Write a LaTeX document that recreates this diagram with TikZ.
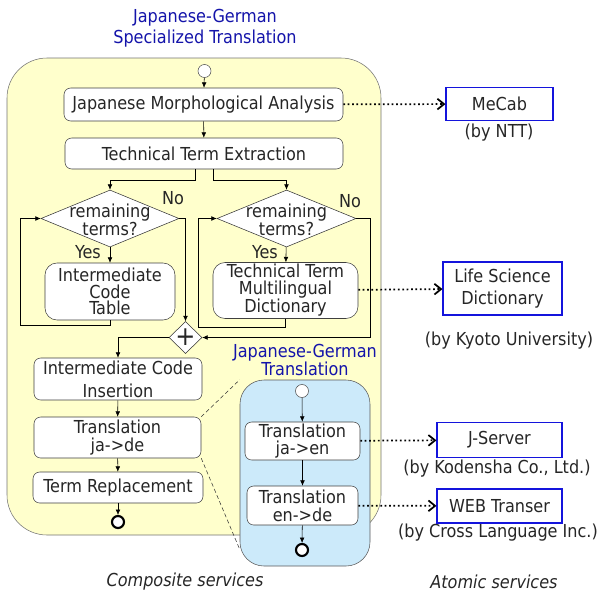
\documentclass[tikz,border=0pt]{standalone}
\usepackage{fontspec}
\setmainfont{DejaVu Sans Condensed}
\usetikzlibrary{shapes,arrows.meta}
\definecolor{csfill}{RGB}{255,255,204}
\definecolor{tsfill}{RGB}{204,234,250}
\definecolor{ttl}{RGB}{20,20,170}
\definecolor{atb}{RGB}{20,20,220}
\tikzset{sz/.style 2 args={minimum width=#1*0.75pt,minimum height=#2*0.75pt}}
\tikzset{lsp/.style={font=\fontsize{13.4}{#1}\selectfont}}
\tikzstyle{act}=[draw=black!75,fill=white,rounded corners=5pt,align=center,inner sep=0pt]
\tikzstyle{atom}=[draw=atb,thick,fill=white,align=center,inner sep=0pt]
\tikzstyle{dec}=[diamond,draw=black!80,fill=white,inner sep=0pt]
\tikzstyle{ini}=[circle,draw=black!70,fill=white,minimum size=13*0.75pt,inner sep=0pt]
\tikzstyle{fin}=[circle,draw=black,line width=1.6pt,fill=white,minimum size=12*0.75pt,inner sep=0pt]
\tikzstyle{flow}=[-{Latex[length=4pt,width=3.5pt]},black]
\tikzstyle{use}=[line width=1.3pt,dotted,-{Straight Barb[length=5pt,width=8pt,line width=1.3pt]}]
\tikzstyle{ttl}=[text=ttl,align=center]
\tikzstyle{by}=[align=center]
\tikzstyle{cmt}=[font=\fontsize{13.4}{15}\selectfont\itshape]

\begin{document}
\begin{tikzpicture}[x=0.75pt,y=-0.75pt,font=\fontsize{13.4}{12.3}\selectfont,text=black!85]
\useasboundingbox (0,0) rectangle (602,593);
\node[draw=black!55,fill=csfill,rounded corners=30pt,sz={374}{477}] (cs) at (194,296.5) {};
\node[ttl,lsp=15.5] (cst) at (205,28) {Japanese-German\\Specialized Translation};
\node[ini] (s1) at (204.5,71) {};
\node[act,sz={279}{33}] (mja) at (203.5,104.5) {Japanese Morphological Analysis};
\node[act,sz={278}{31}] (tte) at (204,153.5) {Technical Term Extraction};
\node[dec,sz={138}{57},label={[align=center,yshift=-1pt]center:remaining\\terms?}] (d1) at (110,218.5) {};
\node[dec,sz={139}{57},label={[align=center,yshift=-1pt]center:remaining\\terms?}] (d2) at (286.5,218.5) {};
\node[act,sz={130}{57},rounded corners=9pt] (ict) at (110,291.5) {Intermediate\\Code\\Table};
\node[act,sz={145}{56},rounded corners=9pt] (ttd) at (285.5,290.5) {Technical Term\\Multilingual\\Dictionary};
\node[dec,sz={33}{32},label={center:\fontsize{20}{20}\selectfont +}] (mrg) at (185.5,337.5) {};
\node[act,sz={168}{42},lsp=17] (ici) at (118,379) {Intermediate Code\\Insertion};
\node[act,sz={167}{41},lsp=14] (jade) at (117.5,437.5) {Translation\\ja->de};
\node[act,sz={170}{31}] (trp) at (118,487.5) {Term Replacement};
\node[fin] (e1) at (118,522) {};
\node at (173,198) {No};
\node at (350,201) {No};
\node at (88,252) {Yes};
\node at (265,252) {Yes};

\node[draw=black!65,fill=tsfill,rounded corners=18pt,sz={130}{186}] (jg) at (305,473) {};
\node[ttl] (jgt) at (305,360) {Japanese-German\\Translation};
\node[ini] (s2) at (302,391) {};
\node[act,sz={115}{38},lsp=13] (jaen) at (302.5,441) {Translation\\ja->en};
\node[act,sz={111}{39},lsp=13.5] (ende) at (302.5,505.5) {Translation\\en->de};
\node[fin] (e2) at (302,550) {};
\coordinate (jgl) at (240,550);
\draw[densely dashed,black!80,line width=0.4pt] (jade.north east) -- (jg.north west);
\draw[densely dashed,black!80,line width=0.4pt] (jade.south east) -- (jgl);

\node[atom,sz={107}{33}] (mecab) at (499.5,104) {MeCab};
\node[by] at (499,133) {(by NTT)};
\node[atom,sz={119}{53},lsp=16.5] (lsd) at (502.5,288.5) {Life Science\\Dictionary};
\node[by] at (509,341) {(by Kyoto University)};
\node[atom,sz={125}{35}] (jsv) at (499.5,440) {J-Server};
\node[by] at (497,469) {(by Kodensha Co., Ltd.)};
\node[by] at (498,533) {(by Cross Language Inc.)};
\node[atom,sz={125}{34}] (web) at (499.5,506) {WEB Transer};
\node[cmt] at (185,582) {Composite services};
\node[cmt] at (494,582) {Atomic services};

\draw[flow] (s1) -- (mja);
\draw[flow] (mja) -- (tte);
\draw[flow] ([xshift=-9*0.75pt]tte.south) |- (110,180.5) -- (d1.north);
\draw[flow] ([xshift=9*0.75pt]tte.south) |- (286.5,180.5) -- (d2.north);
\draw[flow] (d1) -- (ict);
\draw[flow] (d2) -- (ttd);
\draw[flow] (ict.south) -- (110,325) -| (20,218.5) -- (d1.west);
\draw[flow] (ttd.south) -- (285.5,327) -| (198,218.5) -- (d2.west);
\draw[flow] (d1.east) -- (185.5,218.5) -- (mrg.north);
\draw[flow] (d2.east) -- (370,218.5) |- (mrg.east);
\draw[flow] (mrg.west) -| (ici.north);
\draw[flow] (ici) -- (jade);
\draw[flow] (jade) -- (trp);
\draw[flow] (trp) -- (e1);
\draw[flow] (s2) -- (jaen);
\draw[flow] (jaen) -- (ende);
\draw[flow] (ende) -- (e2);

\draw[use] (mja) -- (mecab);
\draw[use] (ttd) -- (lsd);
\draw[use] (jaen) -- (jsv);
\draw[use] (ende) -- (web);
\end{tikzpicture}
\end{document}
